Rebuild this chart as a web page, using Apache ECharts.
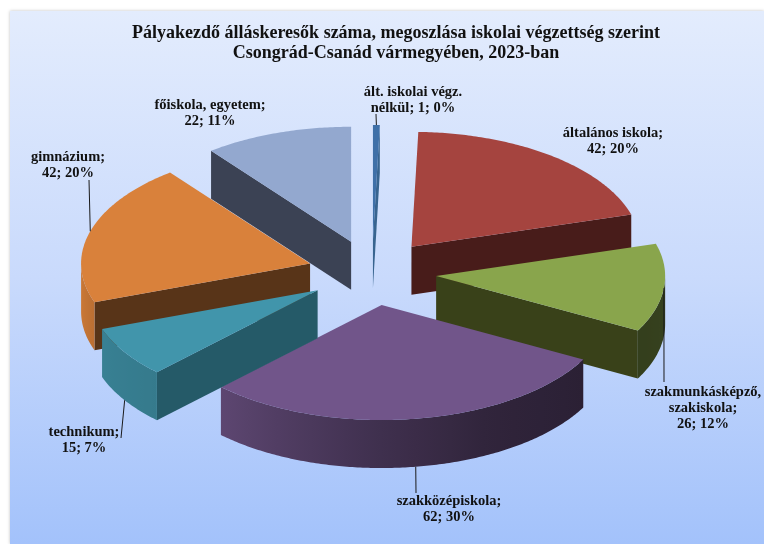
<!DOCTYPE html>
<html>
<head>
<meta charset="utf-8">
<style>html,body{margin:0;padding:0;background:#fff}#c{width:764px;height:544px}</style>
<script src="https://cdn.jsdelivr.net/npm/echarts@6/dist/echarts.min.js"></script>
</head>
<body>
<div id="c"></div>
<script>
const categories = ['ált. iskolai végz. nélkül','általános iskola','szakmunkásképző, szakiskola','szakközépiskola','technikum','gimnázium','főiskola, egyetem'];
const values = [1,42,26,62,15,42,22];
const percents = [0,20,12,30,7,20,11];
const labelLines = [
  ['ált. iskolai végz.','nélkül; 1; 0%'],
  ['általános iskola;','42; 20%'],
  ['szakmunkásképző,','szakiskola;','26; 12%'],
  ['szakközépiskola;','62; 30%'],
  ['technikum;','15; 7%'],
  ['gimnázium;','42; 20%'],
  ['főiskola, egyetem;','22; 11%']
];
const topColors = ['#3f70a8','#a5443f','#89a54c','#71558a','#4195ab','#d9813b','#93a8cf'];
const wallColors = ['#38648f','#481c1a','#394119','#2a2035','#255a68','#583418','#3b4254'];
const drawRank = [0,1,2,5,6,4,3];
const labelPos = [[413,92],[613,133],[703,392],[449,501],[84,432],[68,157],[210,105]];
const leaderEnd = [[376,114],null,[664,382],[416,493],[121,438],[89,180],null];

const G = {cx:372, cy:272.7, rx:229, ry:115, ex:64.5, ey:32.7, depth:48};
const total = values.reduce((a,b)=>a+b,0);
let run = 0;
const slices = values.map(v=>{const a0=run/total*360; run+=v; return {a0,a1:run/total*360};});
const rad = d=>d*Math.PI/180;

function apex(s){const m=rad((s.a0+s.a1)/2);return [G.cx+G.ex*Math.sin(m),G.cy-G.ey*Math.cos(m)];}
function rim(c,a,dy){const t=rad(a);return [c[0]+G.rx*Math.sin(t),c[1]-G.ry*Math.cos(t)+(dy||0)];}
function arc(c,a0,a1,dy){const n=Math.max(2,Math.ceil((a1-a0)*1.5)),p=[];for(let i=0;i<=n;i++)p.push(rim(c,a0+(a1-a0)*i/n,dy));return p;}
function shade(a){ // wall brightness around the rim: dark on the right, bright on the left
  const pts=[[90,.40],[118,.38],[150,.42],[180,.56],[224,.82],[250,.86],[270,.95]];
  for(let i=1;i<pts.length;i++) if(a<=pts[i][0]){const f=(a-pts[i-1][0])/(pts[i][0]-pts[i-1][0]);return pts[i-1][1]+f*(pts[i][1]-pts[i-1][1]);}
  return .95;
}
function mix(hex,f){const n=parseInt(hex.slice(1),16);return 'rgb('+[n>>16,(n>>8)&255,n&255].map(x=>Math.round(x*f)).join(',')+')';}

function renderSlice(params){
  const i=params.dataIndex,s=slices[i],c=apex(s),r=drawRank[i]*10,kids=[];
  const wall=(a)=>{const e=rim(c,a);return {type:'polygon',z2:r+1,shape:{points:[c,e,[e[0],e[1]+G.depth],[c[0],c[1]+G.depth]]},style:{fill:wallColors[i]}};};
  if(Math.sin(rad(s.a1))>0) kids.push(wall(s.a1));
  if(Math.sin(rad(s.a0))<0) kids.push(wall(s.a0));
  const a0=Math.max(s.a0,90),a1=Math.min(s.a1,270);
  if(a1>a0){
    const top=arc(c,a0,a1,0),bot=arc(c,a0,a1,G.depth).reverse();
    const xs=top.map(p=>p[0]),minX=Math.min(...xs),maxX=Math.max(...xs),stops=[];
    for(let k=0;k<=12;k++){const a=a0+(a1-a0)*k/12;stops.push({offset:(rim(c,a)[0]-minX)/(maxX-minX),color:mix(topColors[i],shade(a))});}
    stops.sort((p,q)=>p.offset-q.offset);
    kids.push({type:'polygon',z2:r+2,shape:{points:top.concat(bot)},style:{fill:{type:'linear',x:0,y:0,x2:1,y2:0,colorStops:stops}}});
  }
  kids.push({type:'polygon',z2:r+3,shape:{points:[c].concat(arc(c,s.a0,s.a1,0))},style:{fill:topColors[i]}});
  return {type:'group',children:kids};
}
function renderLabel(params){
  const i=params.dataIndex,s=slices[i],c=apex(s),kids=[],p=labelPos[i],e=leaderEnd[i];
  if(e){
    const m=(s.a0+s.a1)/2,front=m>120&&m<270;
    const st=rim(c,m,front?G.depth:0);
    kids.push({type:'line',z2:200,shape:{x1:st[0],y1:st[1],x2:e[0],y2:e[1]},style:{stroke:'#1a1a1a',lineWidth:1}});
  }
  labelLines[i].forEach((t,k)=>kids.push({type:'text',z2:201,style:{text:t,x:p[0],y:p[1]+k*16.2,align:'center',verticalAlign:'middle',font:'bold 14.5px "Liberation Serif"',fill:'#111'}}));
  return {type:'group',children:kids};
}

const data = categories.map((n,i)=>({name:n,value:values[i]}));
const chart = echarts.init(document.getElementById('c'),null,{renderer:'canvas'});
chart.setOption({
  animation:false,
  backgroundColor:'#ffffff',
  title:{text:'Pályakezdő álláskeresők száma, megoszlása iskolai végzettség szerint\nCsongrád-Csanád vármegyében, 2023-ban',left:391,top:18,textAlign:'center',
    textStyle:{fontFamily:'Liberation Serif',fontWeight:'bold',fontSize:18,lineHeight:20.5,color:'#111'}},
  graphic:[{type:'rect',z:-10,shape:{x:10,y:11,width:754,height:533},style:{fill:{type:'linear',x:0,y:0,x2:0,y2:1,colorStops:[{offset:0,color:'#e3ecfd'},{offset:.5,color:'#c9dafc'},{offset:1,color:'#a3c2fb'}]},shadowBlur:3,shadowColor:'rgba(0,0,0,.25)'}}],
  series:[
    {type:'custom',coordinateSystem:'none',silent:true,data,renderItem:renderSlice},
    {type:'custom',coordinateSystem:'none',silent:true,z:5,data,renderItem:renderLabel}
  ]
});
</script>
</body>
</html>
